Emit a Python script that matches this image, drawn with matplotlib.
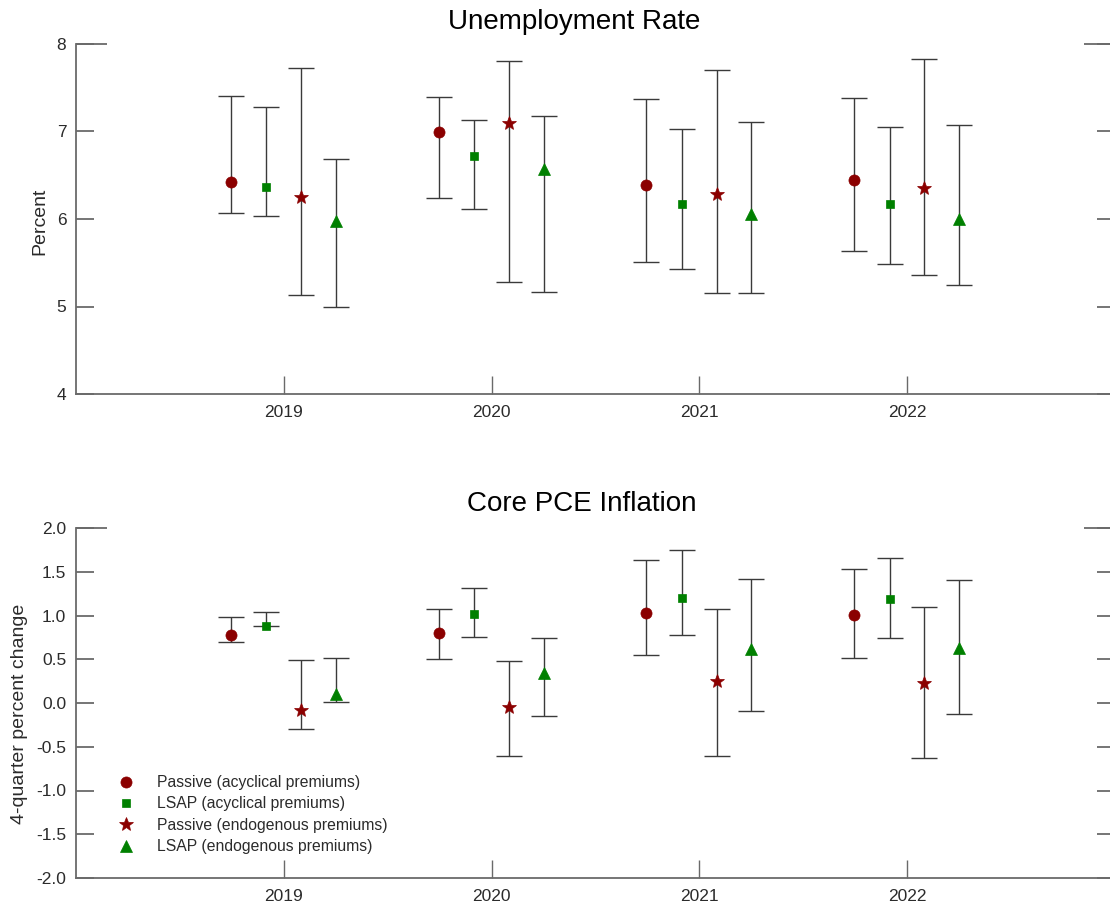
import matplotlib

matplotlib.use("Agg")
import matplotlib.pyplot as plt
import numpy as np

plt.rcParams["font.family"] = ["Liberation Sans", "DejaVu Sans"]

years = [2019, 2020, 2021, 2022]
series_labels = [
    "Passive (acyclical premiums)",
    "LSAP (acyclical premiums)",
    "Passive (endogenous premiums)",
    "LSAP (endogenous premiums)",
]

# Unemployment rate: point estimate, lower and upper band, by series
unemp_passive_acyc = [6.42, 6.99, 6.39, 6.45]
unemp_passive_acyc_lo = [6.07, 6.24, 5.51, 5.64]
unemp_passive_acyc_hi = [7.41, 7.39, 7.37, 7.38]
unemp_lsap_acyc = [6.36, 6.72, 6.17, 6.17]
unemp_lsap_acyc_lo = [6.03, 6.11, 5.43, 5.49]
unemp_lsap_acyc_hi = [7.28, 7.13, 7.03, 7.05]
unemp_passive_endo = [6.25, 7.10, 6.29, 6.35]
unemp_passive_endo_lo = [5.13, 5.28, 5.15, 5.36]
unemp_passive_endo_hi = [7.73, 7.81, 7.70, 7.83]
unemp_lsap_endo = [5.98, 6.57, 6.06, 6.00]
unemp_lsap_endo_lo = [5.00, 5.16, 5.15, 5.24]
unemp_lsap_endo_hi = [6.69, 7.18, 7.11, 7.07]

# Core PCE inflation, 4-quarter percent change
pce_passive_acyc = [0.78, 0.80, 1.03, 1.01]
pce_passive_acyc_lo = [0.70, 0.50, 0.55, 0.51]
pce_passive_acyc_hi = [0.985, 1.08, 1.63, 1.53]
pce_lsap_acyc = [0.88, 1.02, 1.20, 1.19]
pce_lsap_acyc_lo = [0.88, 0.76, 0.78, 0.74]
pce_lsap_acyc_hi = [1.04, 1.32, 1.745, 1.66]
pce_passive_endo = [-0.08, -0.05, 0.255, 0.23]
pce_passive_endo_lo = [-0.30, -0.60, -0.61, -0.63]
pce_passive_endo_hi = [0.49, 0.48, 1.08, 1.10]
pce_lsap_endo = [0.10, 0.34, 0.62, 0.63]
pce_lsap_endo_lo = [0.01, -0.15, -0.09, -0.12]
pce_lsap_endo_hi = [0.51, 0.74, 1.42, 1.41]

unemp_ticks = [4, 5, 6, 7, 8]
pce_ticks = [-2.0, -1.5, -1.0, -0.5, 0.0, 0.5, 1.0, 1.5, 2.0]

RED = "#8b0000"
GREEN = "#008000"
BAR = "#3a3a3a"
AXIS = "#6a6a6a"
TEXT = "#2b2b2b"

offsets = [-0.255, -0.085, 0.083, 0.25]
styles = [
    dict(marker="o", color=RED, ms=8),
    dict(marker="s", color=GREEN, ms=6),
    dict(marker="*", color=RED, ms=10),
    dict(marker="^", color=GREEN, ms=9),
]


def draw_panel(ax, panel, ticks, fmt):
    x = np.array(years, dtype=float)
    handles = []
    for (mid, lo, hi), off, st in zip(panel, offsets, styles):
        mid = np.array(mid)
        yerr = [mid - np.array(lo), np.array(hi) - mid]
        ax.errorbar(x + off, mid, yerr=yerr, fmt="none", ecolor=BAR,
                    elinewidth=1.0, capsize=9.4, capthick=1.0, zorder=2)
        (h,) = ax.plot(x + off, mid, linestyle="none", marker=st["marker"],
                       color=st["color"], markersize=st["ms"],
                       markeredgewidth=0.5, zorder=3)
        handles.append(h)

    ax.set_xlim(2018, 2023)
    ax.set_ylim(ticks[0], ticks[-1])
    ax.set_xticks(years)
    ax.set_xticklabels([str(y) for y in years])
    ax.set_yticks(ticks)
    ax.set_yticklabels([fmt.format(t) for t in ticks])

    for side in ["top", "right"]:
        ax.spines[side].set_visible(False)
    for side in ["left", "bottom"]:
        ax.spines[side].set_color(AXIS)
        ax.spines[side].set_linewidth(1.3)

    ax.tick_params(axis="y", direction="in", length=13, width=1.3,
                   color=AXIS, left=True, right=True, labelsize=12.5,
                   labelcolor=TEXT, pad=7)
    ax.tick_params(axis="x", direction="in", length=13, width=1.0,
                   color=AXIS, labelsize=12.5, labelcolor=TEXT, pad=8)

    # longer tick at the top of both vertical scales
    tr = ax.get_yaxis_transform()
    ax.plot([0, 0.03], [ticks[-1], ticks[-1]], color=AXIS, lw=1.3,
            transform=tr, clip_on=False, solid_capstyle="butt")
    ax.plot([0.97, 1.0], [ticks[-1], ticks[-1]], color=AXIS, lw=1.3,
            transform=tr, clip_on=False, solid_capstyle="butt")
    return handles


def main() -> None:
    W, H = 1110, 907
    fig = plt.figure(figsize=(W / 100, H / 100), dpi=100)

    left = 76 / W
    width = (1115 - 76) / W
    ax1 = fig.add_axes([left, 1 - 394 / H, width, (394 - 44) / H])
    ax2 = fig.add_axes([left, 1 - 878 / H, width, (878 - 528) / H])

    unemp = [
        (unemp_passive_acyc, unemp_passive_acyc_lo, unemp_passive_acyc_hi),
        (unemp_lsap_acyc, unemp_lsap_acyc_lo, unemp_lsap_acyc_hi),
        (unemp_passive_endo, unemp_passive_endo_lo, unemp_passive_endo_hi),
        (unemp_lsap_endo, unemp_lsap_endo_lo, unemp_lsap_endo_hi),
    ]
    pce = [
        (pce_passive_acyc, pce_passive_acyc_lo, pce_passive_acyc_hi),
        (pce_lsap_acyc, pce_lsap_acyc_lo, pce_lsap_acyc_hi),
        (pce_passive_endo, pce_passive_endo_lo, pce_passive_endo_hi),
        (pce_lsap_endo, pce_lsap_endo_lo, pce_lsap_endo_hi),
    ]

    draw_panel(ax1, unemp, unemp_ticks, "{:.0f}")
    handles = draw_panel(ax2, pce, pce_ticks, "{:.1f}")

    fig.text(574 / W, 1 - 22 / H, "Unemployment Rate", ha="center",
             va="center", fontsize=20, color="black")
    fig.text(582 / W, 1 - 504 / H, "Core PCE Inflation", ha="center",
             va="center", fontsize=20, color="black")
    fig.text(40 / W, 1 - 221 / H, "Percent", rotation=90, ha="center",
             va="center", fontsize=14, color=TEXT)
    fig.text(20 / W, 1 - 714 / H, "4-quarter percent change", rotation=90,
             ha="center", va="center", fontsize=14, color=TEXT)

    ax2.legend(handles, series_labels, loc="upper left",
               bbox_to_anchor=(110 / W, 1 - 775 / H),
               bbox_transform=fig.transFigure, frameon=False,
               fontsize=11.3, handlelength=2.0, handletextpad=1.0,
               labelspacing=0.41, borderaxespad=0, borderpad=0,
               labelcolor=TEXT)

    fig.savefig("out.png", dpi=100)
    plt.close(fig)


if __name__ == "__main__":
    main()
